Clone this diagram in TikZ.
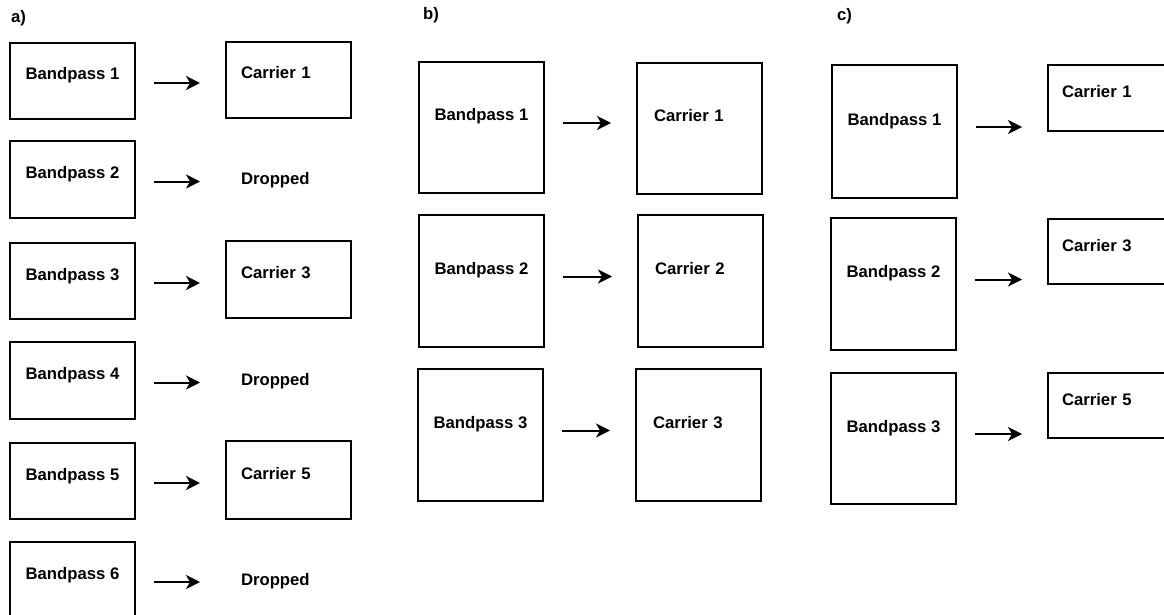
\documentclass[tikz,border=0pt]{standalone}
\usepackage{fontspec}
\setmainfont{Liberation Sans}
\usetikzlibrary{arrows.meta}
\tikzset{
  bpbox/.style={draw, line width=2pt, anchor=north west, minimum width=125pt,
    inner sep=0pt, text height=12pt},
  carbox/.style={bpbox, text width=95pt, inner xsep=15pt, align=left},
  teil/.style={anchor=west, inner sep=0pt},
  pfeil/.style={-{Stealth[length=14pt,width=14pt,inset=4pt]}, line width=2pt,
    shorten <=18pt, shorten >=25pt},
}

\begin{document}
\begin{tikzpicture}[x=1pt, y=-1pt, font=\fontsize{16.7}{20}\selectfont\bfseries]
  \useasboundingbox (0,0) rectangle (1164,615);
  % Teil a): sechs Bandpaesse, jeder zweite Traeger faellt weg
  \node[teil] (la) at (11,18) {a)};
  \node[bpbox, minimum height=76pt, text depth=14pt] (a1) at (9,42) {Bandpass 1};
  \node[bpbox, minimum height=77pt, text depth=14pt] (a2) at (9,140) {Bandpass 2};
  \node[bpbox, minimum height=76pt, text depth=14pt] (a3) at (9,242) {Bandpass 3};
  \node[bpbox, minimum height=77pt, text depth=14pt] (a4) at (9,341) {Bandpass 4};
  \node[bpbox, minimum height=76pt, text depth=14pt] (a5) at (9,442) {Bandpass 5};
  \node[bpbox, minimum height=76pt, text depth=14pt] (a6) at (9,541) {Bandpass 6};
  \node[carbox, minimum height=76pt, text depth=14pt] (ac1) at (225,41) {Carrier 1};
  \node[carbox, draw=none, minimum height=77pt, text depth=3pt] (ad2) at (225,140) {Dropped};
  \node[carbox, minimum height=77pt, text depth=14pt] (ac3) at (225,240) {Carrier 3};
  \node[carbox, draw=none, minimum height=77pt, text depth=3pt] (ad4) at (225,341) {Dropped};
  \node[carbox, minimum height=78pt, text depth=14pt] (ac5) at (225,440) {Carrier 5};
  \node[carbox, draw=none, minimum height=77pt, text depth=3pt] (ad6) at (225,541) {Dropped};
  \begin{scope}[transform canvas={yshift=-2pt}]
  \draw[pfeil] (a1.east) -- (a1.east -| ac1.west);
  \draw[pfeil] (a2.east) -- (a2.east -| ad2.west);
  \draw[pfeil] (a3.east) -- (a3.east -| ac3.west);
  \draw[pfeil] (a4.east) -- (a4.east -| ad4.west);
  \draw[pfeil] (a5.east) -- (a5.east -| ac5.west);
  \draw[pfeil] (a6.east) -- (a6.east -| ad6.west);
  \end{scope}
  % Teil b): drei breite Baender, jedes auf einen Traeger
  \node[teil] (lb) at (423,15) {b)};
  \node[bpbox, minimum height=131pt, text depth=25pt] (b1) at (418,61) {Bandpass 1};
  \node[bpbox, minimum height=132pt, text depth=25pt] (b2) at (418,214) {Bandpass 2};
  \node[bpbox, minimum height=132pt, text depth=25pt] (b3) at (417,368) {Bandpass 3};
  \node[carbox, minimum height=131pt, text depth=25pt, inner xsep=17pt, text width=91pt] (bc1) at (636,62) {Carrier 1};
  \node[carbox, minimum height=132pt, text depth=25pt, inner xsep=17pt, text width=91pt] (bc2) at (637,214) {Carrier 2};
  \node[carbox, minimum height=132pt, text depth=25pt, inner xsep=17pt, text width=91pt] (bc3) at (635,368) {Carrier 3};
  \begin{scope}[transform canvas={yshift=4.5pt}]
  \draw[pfeil] (b1.east) -- (b1.east -| bc1.west);
  \draw[pfeil] (b2.east) -- (b2.east -| bc2.west);
  \draw[pfeil] (b3.east) -- (b3.east -| bc3.west);
  \end{scope}
  % Teil c): breite Baender, aber nur jeder zweite Traeger
  \node[teil] (lc) at (837,16) {c)};
  \node[bpbox, minimum height=133pt, text depth=25pt] (c1) at (831,64) {Bandpass 1};
  \node[bpbox, minimum height=132pt, text depth=25pt] (c2) at (830,217) {Bandpass 2};
  \node[bpbox, minimum height=131pt, text depth=25pt] (c3) at (830,372) {Bandpass 3};
  \node[carbox, minimum height=66pt, text depth=12pt, inner xsep=14pt, text width=97pt] (cc1) at (1047,64) {Carrier 1};
  \node[carbox, minimum height=65pt, text depth=12pt, inner xsep=14pt, text width=97pt] (cc3) at (1047,218) {Carrier 3};
  \node[carbox, minimum height=65pt, text depth=12pt, inner xsep=14pt, text width=97pt] (cc5) at (1047,372) {Carrier 5};
  \begin{scope}[transform canvas={yshift=4.5pt}]
  \draw[pfeil] (c1.east) -- (c1.east -| cc1.west);
  \draw[pfeil] (c2.east) -- (c2.east -| cc3.west);
  \draw[pfeil] (c3.east) -- (c3.east -| cc5.west);
  \end{scope}
\end{tikzpicture}
\end{document}
